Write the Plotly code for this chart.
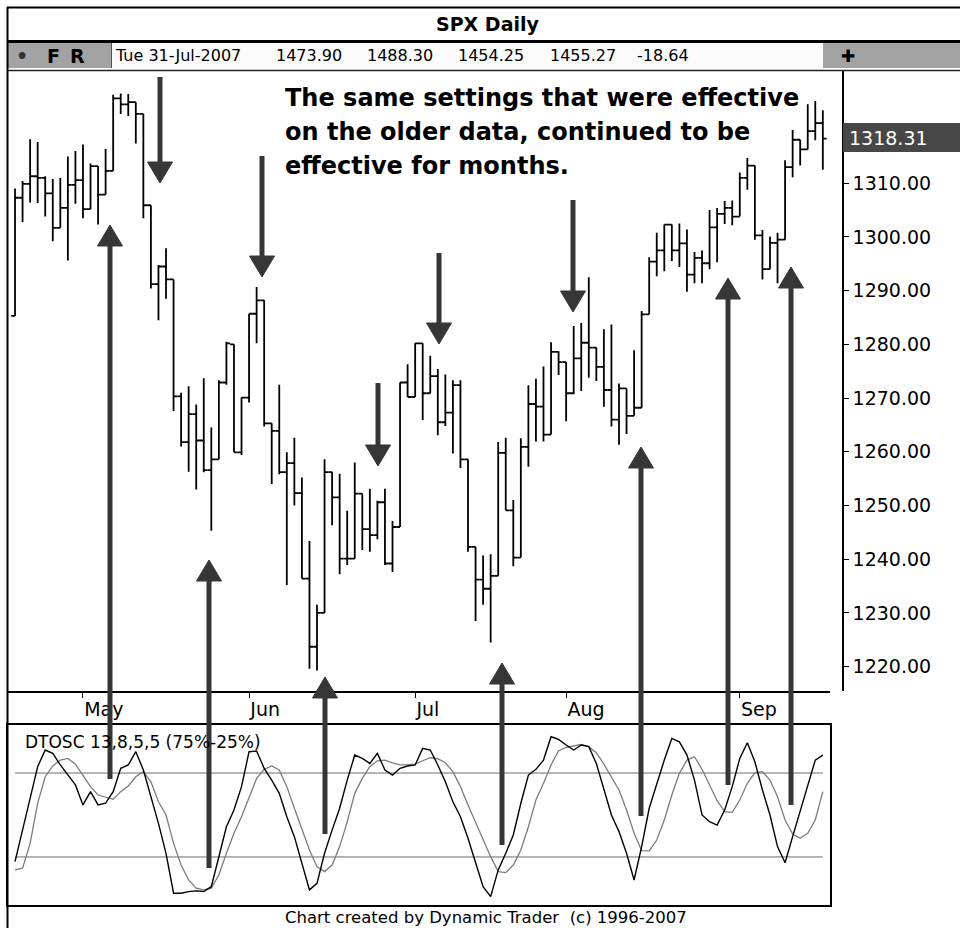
import plotly.graph_objects as go
import pandas as pd

W, H = 960, 928

# ---------------- data ----------------
holidays = ["2006-05-29", "2006-07-04", "2006-09-04"]
dates = [d for d in pd.bdate_range("2006-04-18", "2006-09-19")
         if d.strftime("%Y-%m-%d") not in holidays]

opens = [1285.3,1307.3,1309.9,1311.3,1311.0,1308.1,1301.7,1305.4,1309.7,1310.6,
         1305.2,1313.2,1307.9,1312.3,1325.8,1324.7,1325.1,1322.9,1305.9,1291.2,
         1294.5,1292.1,1270.3,1261.8,1267.0,1262.1,1256.6,1258.6,1272.9,1280.0,
         1259.9,1270.1,1285.7,1288.2,1265.3,1263.9,1256.2,1257.9,1252.3,1236.4,
         1223.7,1230.0,1256.2,1251.5,1240.1,1240.1,1252.2,1245.6,1244.5,1250.6,
         1239.2,1246.0,1272.9,1270.2,1280.2,1270.9,1274.1,1265.5,1267.3,1272.4,
         1258.6,1242.3,1236.2,1234.5,1236.9,1259.8,1249.1,1240.3,1260.9,1268.9,
         1268.4,1263.2,1278.6,1276.7,1270.9,1277.4,1280.3,1279.4,1275.8,1271.5,
         1266.0,1271.8,1266.7,1268.2,1285.6,1295.4,1297.5,1302.3,1297.5,1298.8,
         1293.0,1296.1,1295.1,1301.8,1304.3,1305.4,1303.8,1311.0,1313.3,1300.3,
         1294.0,1298.9,1299.5,1313.0,1318.1,1316.3,1319.7,1321.2]
highs = [1309.0,1310.4,1318.2,1317.7,1311.3,1310.8,1311.0,1315.0,1316.0,1317.2,
         1313.7,1313.2,1316.4,1326.5,1326.7,1326.6,1325.1,1322.9,1305.9,1294.8,
         1297.9,1292.1,1271.0,1272.2,1268.8,1273.7,1264.5,1273.3,1280.5,1280.0,
         1270.1,1285.7,1290.7,1288.2,1265.3,1272.5,1259.9,1262.6,1255.2,1243.4,
         1231.5,1258.6,1256.3,1255.9,1249.0,1258.0,1252.2,1253.1,1250.9,1253.1,
         1247.1,1272.9,1276.3,1280.2,1280.2,1277.9,1275.4,1274.4,1273.3,1273.3,
         1258.6,1242.3,1240.7,1240.9,1261.8,1262.6,1251.0,1262.5,1272.4,1273.6,
         1275.9,1280.4,1278.7,1276.7,1283.4,1284.0,1292.5,1279.4,1282.8,1283.7,
         1272.7,1271.8,1278.9,1286.2,1296.2,1300.8,1302.3,1302.3,1302.5,1301.4,
         1297.2,1297.5,1305.0,1305.4,1306.7,1306.8,1312.0,1314.7,1313.3,1301.3,
         1300.1,1300.8,1314.3,1319.9,1318.1,1324.7,1325.3,1323.6]
lows = [1285.3,1302.8,1306.4,1306.3,1303.8,1299.2,1301.7,1295.6,1306.2,1303.5,
        1305.2,1302.3,1307.9,1312.3,1322.9,1322.5,1317.4,1303.5,1290.4,1284.5,
        1288.5,1267.6,1261.0,1256.3,1253.0,1256.2,1245.3,1258.6,1272.5,1259.9,
        1259.4,1269.2,1280.2,1264.7,1254.0,1255.8,1235.2,1250.0,1236.4,1219.6,
        1219.3,1230.0,1246.3,1237.2,1238.9,1240.1,1241.7,1241.4,1243.7,1238.9,
        1237.6,1246.0,1270.2,1270.2,1265.9,1270.9,1263.1,1264.8,1259.7,1257.0,
        1241.4,1228.5,1231.5,1224.5,1236.9,1249.1,1238.7,1240.3,1257.2,1261.9,
        1261.9,1263.2,1274.3,1265.7,1270.7,1271.3,1273.8,1273.2,1268.4,1264.7,
        1261.3,1263.3,1266.7,1268.2,1285.6,1292.7,1293.6,1295.5,1294.4,1289.8,
        1291.4,1291.4,1294.0,1295.3,1302.4,1302.2,1303.8,1308.8,1299.5,1292.1,
        1294.0,1291.4,1299.5,1311.1,1313.3,1316.3,1318.0,1312.5]
closes = [1307.3,1309.9,1311.3,1311.0,1308.1,1301.7,1305.4,1309.7,1310.6,1305.2,
          1313.2,1307.9,1312.3,1325.8,1324.7,1325.1,1322.9,1305.9,1291.2,1294.5,
          1292.1,1270.3,1261.8,1267.0,1262.1,1256.6,1258.6,1272.9,1280.2,1259.9,
          1270.1,1285.7,1288.2,1265.3,1263.9,1256.2,1257.9,1252.3,1236.4,1223.7,
          1230.0,1256.2,1251.5,1240.1,1240.1,1252.2,1245.6,1244.5,1250.6,1239.2,
          1246.0,1272.9,1270.2,1280.2,1270.9,1274.1,1265.5,1267.3,1272.4,1258.6,
          1242.3,1236.2,1234.5,1236.9,1259.8,1249.1,1240.3,1260.9,1268.9,1268.4,
          1263.2,1278.6,1276.7,1270.9,1277.4,1280.3,1279.4,1275.8,1271.5,1266.0,
          1271.8,1266.7,1268.2,1285.6,1295.4,1297.5,1302.3,1297.5,1298.8,1293.0,
          1296.1,1295.1,1301.8,1304.3,1305.4,1303.8,1311.0,1313.3,1300.3,1294.0,
          1298.9,1299.5,1313.0,1318.1,1316.3,1319.7,1321.2,1318.3]

dtosc_fast = [22.2,41,59,78.8,88.7,86.7,79.8,73.8,67.9,56,
              63.9,56,57,63.9,77.8,79.8,87.7,76.8,60.9,45,
              27.2,3.4,3.4,4.4,4.8,4.4,7.3,25.2,43,53,
              66.9,87.7,88.1,77.8,70.8,62.9,49,37.1,21.2,5.4,
              9.3,27.2,41,54,70.8,85.7,83.7,80.7,86.7,76.8,
              73.8,77.8,79.2,79.8,89.7,88.7,79.8,69.8,57.9,49,
              36.1,21.2,7.3,1.4,17.3,27.2,38.1,57,73.8,77.2,
              82.7,96.6,95,91.7,88.7,91.7,90.7,80.7,65.9,50,
              40.1,27.2,11.3,31.2,54,68.9,82.7,95.6,93.6,85.7,
              70.8,50,46,44,53,66.9,83.7,93,81.7,64.9,
              50,31.2,21.6,37.1,52,67.9,82.7,85.7]
dtosc_slow = [17.3,18.3,33.1,56.9,72.8,79.2,82.7,83.7,80.3,73.8,
              66.9,61.9,60.5,59.3,63.9,67.3,72.8,75.8,69.8,57.9,
              50,33.1,20.2,11.3,6.4,5.4,6.4,14.3,27.2,39.1,
              49,60.9,71.8,77.2,79.2,76.8,66.9,54,41.1,29.2,
              19.2,16.3,20.2,31.2,46,62.9,71.8,78.8,82.3,82.7,
              81.1,79.8,79.8,80.3,82.3,84.1,83.5,81.1,75.8,66.9,
              56,46,36.1,25.2,16.3,15.7,20.2,29.2,43,58.9,
              68.9,79.8,88.3,90.3,91.1,92.1,90.7,87.1,80.3,72.4,
              64.9,53,39.1,28.8,28.6,35.1,47,61.9,74.8,82.7,
              84.7,77.2,67.9,58.5,52,51.6,58.9,68.9,75.2,75.8,
              70.8,60.9,47,38.7,36.1,39.1,47,63.9]
osc_levels = [75, 25]

price_ticks = [1220, 1230, 1240, 1250, 1260, 1270, 1280, 1290, 1300, 1310]
month_labels = ["May", "Jun", "Jul", "Aug", "Sep"]
last_price = 1318.31

title_text = "SPX Daily"
info_fields = ["Tue 31-Jul-2007", "1473.90", "1488.30", "1454.25", "1455.27", "-18.64"]
note_lines = ["The same settings that were effective",
              "on the older data, continued to be",
              "effective for months."]
osc_label = "DTOSC 13,8,5,5 (75%-25%)"
footer = "Chart created by Dynamic Trader\u00a0 (c) 1996-2007"

# ---------------- helpers ----------------
n = len(closes)
idx = list(range(n))
month_idx = []
seen = set()
for i, d in enumerate(dates):
    if d.month != dates[0].month and d.month not in seen:
        seen.add(d.month)
        month_idx.append(i)


def px(x):
    return x / W


def py(y):
    return 1 - y / H


fig = go.Figure()

fig.add_trace(go.Ohlc(
    x=idx, open=opens, high=highs, low=lows, close=closes,
    increasing=dict(line=dict(color="black", width=1.8)),
    decreasing=dict(line=dict(color="black", width=1.8)),
    tickwidth=0.5, xaxis="x", yaxis="y", showlegend=False, hoverinfo="skip"))

for lv in osc_levels:
    fig.add_trace(go.Scatter(x=[idx[0], idx[-1]], y=[lv, lv], mode="lines",
                             line=dict(color="#6a6a6a", width=1),
                             xaxis="x2", yaxis="y2", showlegend=False, hoverinfo="skip"))
fig.add_trace(go.Scatter(x=idx, y=dtosc_slow, mode="lines",
                         line=dict(color="#7c7c7c", width=1.3),
                         xaxis="x2", yaxis="y2", showlegend=False, hoverinfo="skip"))
fig.add_trace(go.Scatter(x=idx, y=dtosc_fast, mode="lines",
                         line=dict(color="black", width=1.4),
                         xaxis="x2", yaxis="y2", showlegend=False, hoverinfo="skip"))

xr = [-0.93, 107.95]
fig.update_layout(
    width=W, height=H, margin=dict(l=0, r=0, t=0, b=0),
    paper_bgcolor="white", plot_bgcolor="white", showlegend=False,
    font=dict(family="DejaVu Sans", color="black"),
    xaxis=dict(domain=[px(8), px(830)], range=xr, anchor="y",
               showline=True, linecolor="black", linewidth=1.5,
               ticks="outside", ticklen=5, tickcolor="black", tickwidth=1,
               tickvals=month_idx, ticktext=month_labels,
               ticklabelposition="outside right", tickfont=dict(size=19),
               showgrid=False, zeroline=False, rangeslider=dict(visible=False),
               fixedrange=True),
    yaxis=dict(domain=[py(691), py(71)], range=[1215.46, 1330.9],
               side="right", anchor="free", position=px(843),
               showline=True, linecolor="black", linewidth=1.5,
               ticks="outside", ticklen=5, tickcolor="black", tickwidth=1,
               tickvals=price_ticks, ticktext=[f"{v:.2f}" for v in price_ticks],
               tickfont=dict(size=19), showgrid=False, zeroline=False, fixedrange=True),
    xaxis2=dict(domain=[px(8), px(830)], range=xr, anchor="y2",
                showline=True, mirror=True, linecolor="black", linewidth=1.5,
                showticklabels=False, ticks="", showgrid=False, zeroline=False,
                fixedrange=True),
    yaxis2=dict(domain=[py(905), py(725)], range=[-3.6, 103.6], anchor="x2",
                showline=True, mirror=True, linecolor="black", linewidth=1.5,
                showticklabels=False, ticks="", showgrid=False, zeroline=False,
                fixedrange=True),
)

shapes = []


def rect(x0, y0, x1, y1, fill, layer="below"):
    shapes.append(dict(type="rect", xref="paper", yref="paper",
                       x0=px(x0), x1=px(x1), y0=py(y1), y1=py(y0),
                       fillcolor=fill, line=dict(width=0), layer=layer))


def hline(x0, x1, y, w, color="black"):
    shapes.append(dict(type="line", xref="paper", yref="paper",
                       x0=px(x0), x1=px(x1), y0=py(y), y1=py(y),
                       line=dict(color=color, width=w), layer="above"))


def vline(x, y0, y1, w, color="black"):
    shapes.append(dict(type="line", xref="paper", yref="paper",
                       x0=px(x), x1=px(x), y0=py(y0), y1=py(y1),
                       line=dict(color=color, width=w), layer="above"))


# header
rect(8, 43, 111, 68, "#a3a3a3")
rect(111, 43, 823, 68, "#fbfbfb")
rect(823, 43, 960, 68, "#a3a3a3")
hline(7, 960, 7.5, 2)
vline(7.5, 7, 928, 2)
hline(7, 960, 41.5, 3)
vline(111.5, 43, 68, 1, "#555555")
hline(7, 960, 70.5, 1.5, "#222222")
# last price box
rect(843, 123, 960, 152, "#474747", layer="above")

# arrows (annotation marks)
ARROW = "#363636"
down_arrows = [(160, 77, 183), (262, 156, 277), (378, 383, 466), (439, 253, 344), (573, 200, 312)]
up_arrows = [(110, 779, 225), (209, 868, 560), (325, 834, 677), (502, 845, 663),
             (641, 816, 447), (728, 785, 278), (791, 805, 267)]
for (x, tail, tip) in down_arrows + up_arrows:
    d = 1 if tip > tail else -1
    base = tip - d * 21
    shapes.append(dict(type="line", xref="paper", yref="paper",
                       x0=px(x), x1=px(x), y0=py(tail), y1=py(base),
                       line=dict(color=ARROW, width=5), layer="above"))
    path = (f"M {px(x-12.5)},{py(base)} L {px(x+12.5)},{py(base)} "
            f"L {px(x)},{py(tip)} Z")
    shapes.append(dict(type="path", xref="paper", yref="paper", path=path,
                       fillcolor=ARROW, line=dict(color=ARROW, width=1), layer="above"))

fig.update_layout(shapes=shapes)

ann = []


def text(x, y, s, size, anchor="center", color="black", bold=False):
    ann.append(dict(xref="paper", yref="paper", x=px(x), y=py(y),
                    text=f"<b>{s}</b>" if bold else s, showarrow=False,
                    xanchor=anchor, yanchor="middle",
                    font=dict(size=size, color=color, family="DejaVu Sans")))


text(487, 24, title_text, 19, bold=True)
text(22, 56, "\u2022", 19, color="#333333", bold=True)
text(53, 56, "F", 19, bold=True)
text(77, 56, "R", 19, bold=True)
for xx, s in zip([113, 274, 365, 456, 548, 635], info_fields):
    text(xx, 56, s, 16, anchor="left")
text(848, 56, "\u271a", 17)
for yy, s in zip([98, 132, 166], note_lines):
    text(283, yy, s, 24, anchor="left", bold=True)
text(847, 138, f"{last_price:.2f}", 19, anchor="left", color="white")
text(23, 742, osc_label, 17, anchor="left")
text(486, 917, footer, 16.5)
fig.update_layout(annotations=ann)

fig.write_html("out.html", config={"displayModeBar": False},
               post_script="document.body.style.margin='0px';document.body.style.overflow='hidden';")
